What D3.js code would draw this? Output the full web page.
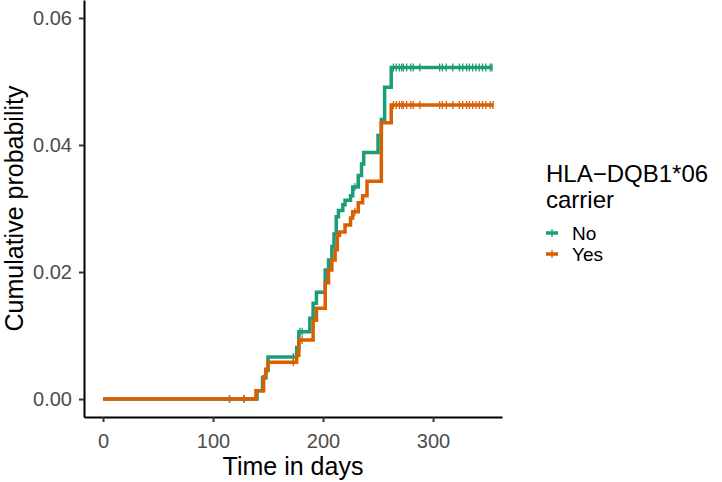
<!DOCTYPE html>
<html>
<head>
<meta charset="utf-8">
<script src="https://cdn.jsdelivr.net/npm/d3@7"></script>
<style>
  html, body { margin: 0; padding: 0; background: #fff; }
  svg { display: block; font-family: "Liberation Sans", Arial, sans-serif; }
</style>
</head>
<body>
<svg id="chart" width="722" height="482"></svg>
<script>
// ---- data ----
const seriesNames = ["No", "Yes"];
const seriesColors = ["#1B9E77", "#D95F02"];
const legendTitle = ["HLA\u2212DQB1*06", "carrier"];
const xTicks = [0, 100, 200, 300];
const yTicks = [0, 0.02, 0.04, 0.06];
const xLabel = "Time in days";
const yLabel = "Cumulative probability";

const noTimes  = [0, 140, 145, 148, 150, 176, 178, 188, 191, 194, 202, 205, 208, 210, 212, 214, 218, 220, 225, 227, 232, 235, 237, 250, 253, 256, 262, 354];
const noValues = [0, 0.0013, 0.0033, 0.0045, 0.0066, 0.0081, 0.0106, 0.0127, 0.0151, 0.0168, 0.0203, 0.0219, 0.0240, 0.0260, 0.0287, 0.0297, 0.0306, 0.0313, 0.0320, 0.0334, 0.0352, 0.0370, 0.0388, 0.0415, 0.0440, 0.0491, 0.0522, 0.0522];

const yesTimes  = [0, 139, 146, 148, 150, 176, 178, 191, 194, 202, 205, 208, 211, 213, 215, 220, 225, 227, 232, 236, 240, 253, 262, 355];
const yesValues = [0, 0.0013, 0.0035, 0.0047, 0.0058, 0.0069, 0.0093, 0.0124, 0.0143, 0.0183, 0.0203, 0.0219, 0.0235, 0.0258, 0.0263, 0.0274, 0.0285, 0.0295, 0.0309, 0.0320, 0.0343, 0.0435, 0.0463, 0.0463];

const noCensor  = [115, 128, 173, 179, 181, 229, 264, 266.6, 269.4, 271.5, 273, 276, 279.7, 282, 288, 306, 308.5, 312, 318, 324, 327, 330.5, 333, 336, 339, 342, 345, 348, 352, 353.5];
const yesCensor = [115, 128, 173, 181, 229, 264, 266.6, 269.4, 271.5, 273, 276, 279.7, 282, 288, 306, 308.5, 312, 318, 324, 327, 330.5, 333, 336, 339, 342, 345, 348, 352, 354.5];

const series = [
  { name: seriesNames[0], color: seriesColors[0], times: noTimes, values: noValues, censor: noCensor },
  { name: seriesNames[1], color: seriesColors[1], times: yesTimes, values: yesValues, censor: yesCensor }
];

// ---- layout ----
const svg = d3.select("#chart");
const panel = { left: 84, right: 502, top: 0, bottom: 417 };

const x = d3.scaleLinear().domain([-17.3, 362.7]).range([panel.left, panel.right]);
const y = d3.scaleLinear().domain([-0.00283, 0.06283]).range([panel.bottom, panel.top]);

function stepValue(s, t) {
  let v = 0;
  for (let i = 0; i < s.times.length; i++) { if (s.times[i] <= t) v = s.values[i]; }
  return v;
}

const line = d3.line()
  .x(d => x(d[0]))
  .y(d => y(d[1]))
  .curve(d3.curveStepAfter);

const g = svg.append("g");

series.forEach(s => {
  const pts = s.times.map((t, i) => [t, s.values[i]]);
  g.append("path")
    .datum(pts)
    .attr("fill", "none")
    .attr("stroke", s.color)
    .attr("stroke-width", 3.5)
    .attr("d", line);
  g.selectAll(null)
    .data(s.censor)
    .enter()
    .append("line")
    .attr("x1", d => x(d)).attr("x2", d => x(d))
    .attr("y1", d => y(stepValue(s, d)) - 4)
    .attr("y2", d => y(stepValue(s, d)) + 4)
    .attr("stroke", s.color)
    .attr("stroke-width", 1.3);
});

// ---- axes ----
const xAxis = d3.axisBottom(x).tickValues(xTicks).tickSize(5).tickSizeOuter(0).tickPadding(12).tickFormat(d3.format("d"));
const yAxis = d3.axisLeft(y).tickValues(yTicks).tickSize(5).tickSizeOuter(0).tickPadding(7).tickFormat(d3.format(".2f"));

const gx = svg.append("g").attr("transform", `translate(0,${panel.bottom})`).call(xAxis);
const gy = svg.append("g").attr("transform", `translate(${panel.left},0)`).call(yAxis);

[gx, gy].forEach(a => {
  a.select(".domain").attr("stroke", "#000").attr("stroke-width", 2);
  a.selectAll(".tick line").attr("stroke", "#333").attr("stroke-width", 2);
  a.selectAll(".tick text").attr("fill", "#4D4D4D").attr("font-size", 20)
    .attr("font-family", "Liberation Sans, Arial, sans-serif");
});

svg.append("text")
  .attr("x", (panel.left + panel.right) / 2)
  .attr("y", 475)
  .attr("text-anchor", "middle")
  .attr("font-size", 25)
  .attr("fill", "#000")
  .text(xLabel);

svg.append("text")
  .attr("transform", `translate(23,${(panel.top + panel.bottom) / 2}) rotate(-90)`)
  .attr("text-anchor", "middle")
  .attr("font-size", 25)
  .attr("fill", "#000")
  .text(yLabel);

// ---- legend ----
const lg = svg.append("g");
legendTitle.forEach((t, i) => {
  lg.append("text")
    .attr("x", 546)
    .attr("y", 182 + i * 26)
    .attr("font-size", 24)
    .attr("fill", "#000")
    .text(t);
});
series.forEach((s, i) => {
  const ky = 233 + i * 21;
  lg.append("line")
    .attr("x1", 546).attr("x2", 558).attr("y1", ky).attr("y2", ky)
    .attr("stroke", s.color).attr("stroke-width", 3.5);
  lg.append("line")
    .attr("x1", 552).attr("x2", 552).attr("y1", ky - 4).attr("y2", ky + 4)
    .attr("stroke", s.color).attr("stroke-width", 1.3);
  lg.append("text")
    .attr("x", 572)
    .attr("y", ky + 7)
    .attr("font-size", 19)
    .attr("fill", "#000")
    .text(s.name);
});
</script>
</body>
</html>
